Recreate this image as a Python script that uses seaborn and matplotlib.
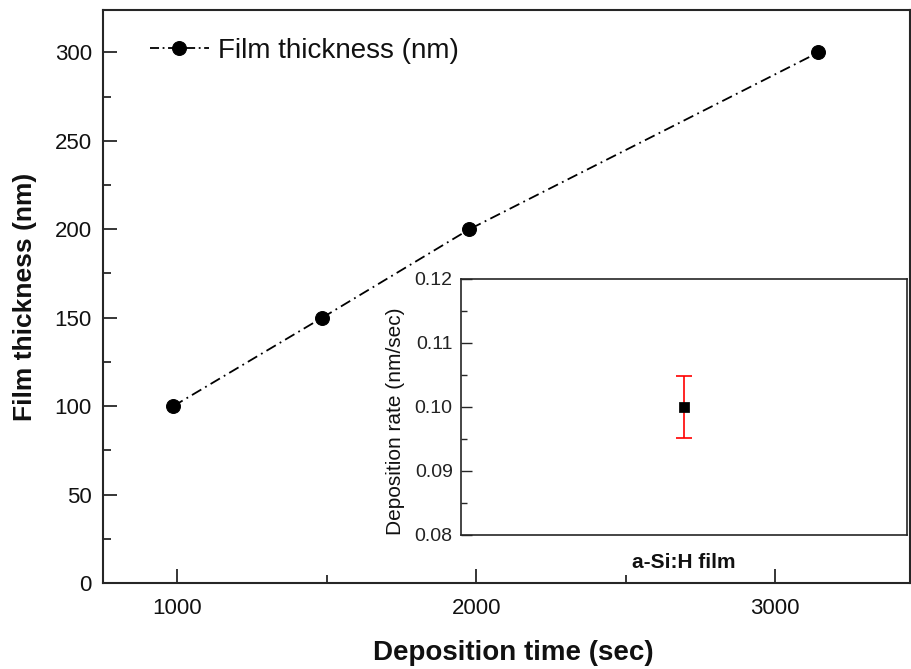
import numpy as np
import pandas as pd
import matplotlib
matplotlib.use("Agg")
import matplotlib.pyplot as plt
import seaborn as sns
from matplotlib.ticker import MultipleLocator, FormatStrFormatter

# 沉積時間 / 膜厚
dep_time = [987, 1485, 1977, 3144]
thickness = [100, 150, 200, 300]

# 沉積速率 (inset)
film_name = ["a-Si:H film"]
dep_rate = [0.100]
rate_err = [0.0048]

sns.set_theme(style="ticks")
plt.rcParams['font.family'] = ['Liberation Sans', 'DejaVu Sans']
plt.rcParams['text.color'] = '#111111'
plt.rcParams['axes.labelcolor'] = '#111111'

df = pd.DataFrame({'time': dep_time, 'thick': thickness})

fig = plt.figure(figsize=(9.12, 6.69), dpi=100)
ax = fig.add_axes([0.113, 0.1286, 0.885, 0.8565])

sns.lineplot(data=df, x='time', y='thick', ax=ax, color='black',
             linewidth=1.3, marker='o', markersize=10, markeredgecolor='black',
             dashes=False, label='Film thickness (nm)')
ax.lines[0].set_dashes((6, 2.5, 1, 2.5))

ax.set_xlim(752, 3451)
ax.set_ylim(0, 324)
ax.xaxis.set_major_locator(MultipleLocator(1000))
ax.xaxis.set_minor_locator(MultipleLocator(500))
ax.yaxis.set_major_locator(MultipleLocator(50))
ax.yaxis.set_minor_locator(MultipleLocator(25))
ax.tick_params(which='both', direction='in', top=False, right=False, labelsize=16,
               width=1.3, labelcolor='#111111')
ax.tick_params(axis='x', which='major', length=10, pad=11)
ax.tick_params(axis='y', which='major', length=10, pad=8)
ax.tick_params(which='minor', length=6)
for s in ax.spines.values():
    s.set_linewidth(1.5)
ax.set_xlabel('Deposition time (sec)', fontsize=20, fontweight='bold', labelpad=15)
ax.xaxis.label.set_x(0.508)
ax.set_ylabel('Film thickness (nm)', fontsize=19, fontweight='bold', labelpad=13)
leg = ax.legend(loc='upper left', frameon=False, fontsize=20, handlelength=2.1,
                handletextpad=0.35, borderaxespad=0.6, bbox_to_anchor=(0.024, 1.0))
leg.get_lines()[0].set_dashes((5, 2, 1, 2))

# inset
ins = fig.add_axes([0.5055, 0.2003, 0.489, 0.3827])
ins.errorbar([0], dep_rate, yerr=rate_err, fmt='none', ecolor='red',
             elinewidth=1.2, capsize=6, capthick=1.2, zorder=1)
sns.scatterplot(x=[0], y=dep_rate, ax=ins, marker='s', s=45, color='black',
                edgecolor='black', zorder=3)
ins.set_xlim(-1, 1)
ins.set_ylim(0.08, 0.12)
ins.set_xticks([])
ins.yaxis.set_major_locator(MultipleLocator(0.01))
ins.yaxis.set_minor_locator(MultipleLocator(0.005))
ins.yaxis.set_major_formatter(FormatStrFormatter('%.2f'))
ins.tick_params(which='both', direction='in', labelsize=14, width=1, pad=6,
                labelcolor='#222222')
ins.tick_params(which='major', length=8)
ins.tick_params(which='minor', length=4)
for s in ins.spines.values():
    s.set_linewidth(1.2)
ins.set_xlabel(film_name[0], fontsize=15, fontweight='bold', labelpad=13)
ins.set_ylabel('Deposition rate (nm/sec)', fontsize=15, labelpad=7)
ins.yaxis.label.set_y(0.443)

fig.savefig('out.png', dpi=100)
